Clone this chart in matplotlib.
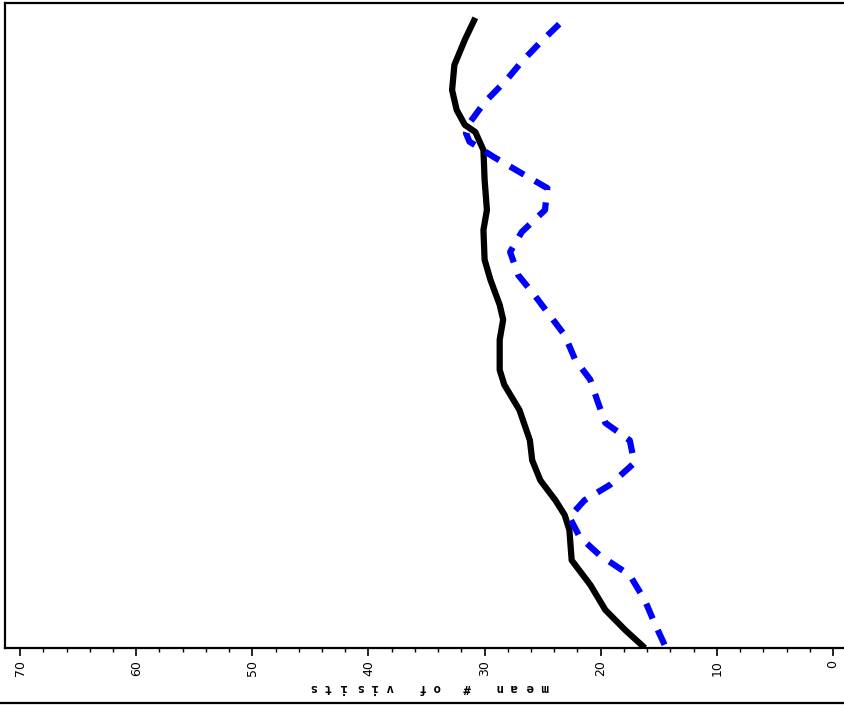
import numpy as np
import matplotlib
matplotlib.use("Agg")
import matplotlib.pyplot as plt
from matplotlib.lines import Line2D

# mean # of visits (x) against position along the (unlabelled) vertical axis
black_visits = [16.2, 17.9, 19.6, 20.9, 22.5, 22.7, 23.1, 23.9, 25.2, 25.9,
                26.1, 27.0, 28.3, 28.7, 28.7, 28.4, 28.7, 29.5, 30.0, 30.1,
                29.8, 30.0, 30.1, 30.8, 31.7, 32.4, 32.8, 32.6, 31.7, 30.8]
black_pos = [0.0, 2.8, 5.9, 9.8, 13.6, 18.3, 20.6, 22.9, 26.0, 29.1,
             32.2, 36.9, 40.8, 43.1, 47.8, 50.9, 53.2, 57.1, 60.2, 64.8,
             67.9, 72.6, 77.2, 80.0, 81.1, 83.4, 86.5, 90.4, 94.3, 97.7]

blue_visits = [14.5, 15.3, 16.2, 17.5, 20.1, 21.8, 22.7, 21.4, 19.2, 17.1,
               17.5, 19.6, 20.3, 20.9, 22.2, 23.1, 24.4, 25.7, 27.1, 27.8,
               26.8, 24.8, 24.6, 27.0, 29.1, 31.3, 31.6, 31.3, 30.0, 28.1,
               26.8, 25.2, 23.3]
blue_pos = [0.5, 3.6, 7.4, 11.3, 14.4, 17.2, 20.3, 22.9, 25.3, 28.7,
            32.2, 34.9, 38.4, 41.6, 44.7, 48.5, 51.6, 54.7, 57.8, 61.4,
            64.5, 67.9, 71.3, 73.8, 76.0, 78.5, 79.8, 81.4, 84.6, 88.1,
            90.9, 93.9, 97.2]

major_ticks = [70, 60, 50, 40, 30, 20, 10, 0]
x_label = "mean # of visits"

W, H = 844, 706
fig = plt.figure(figsize=(W / 100, H / 100), dpi=100)
ax = fig.add_axes([5 / W, 58 / H, 1 - 5 / W, 645 / H])

ax.plot(black_visits, black_pos, color="black", lw=4.5,
        solid_capstyle="butt", solid_joinstyle="round")
ax.plot(blue_visits, blue_pos, color="#0000ff", lw=4.5, dashes=(2.6, 2.0))

ax.set_xlim(71.3, -0.95)
ax.set_ylim(0, 100)
ax.set_xticks(major_ticks)
ax.set_xticks(np.arange(0, 71, 2), minor=True)
ax.set_yticks([])
ax.tick_params(axis="x", which="major", length=6, width=1.2, direction="out", pad=3)
ax.tick_params(axis="x", which="minor", length=3, width=1.0, direction="out")
for lab in ax.get_xticklabels():
    lab.set_rotation(90)
    lab.set_fontsize(9)

for side in ["left", "top", "bottom"]:
    ax.spines[side].set_linewidth(1.6)
ax.spines["right"].set_visible(False)

# upside-down, letter-spaced axis title (SAS style)
pitch = 15.5
for i, ch in enumerate(x_label):
    fig.text((545 - i * pitch) / W, 1 - 687 / H, ch, rotation=180,
             ha="center", va="center", fontsize=9, fontweight="bold",
             family="DejaVu Sans Mono")

fig.add_artist(Line2D([0, 1], [3 / H, 3 / H], color="black", lw=1.6,
                      transform=fig.transFigure))

fig.savefig("out.png", dpi=100)
